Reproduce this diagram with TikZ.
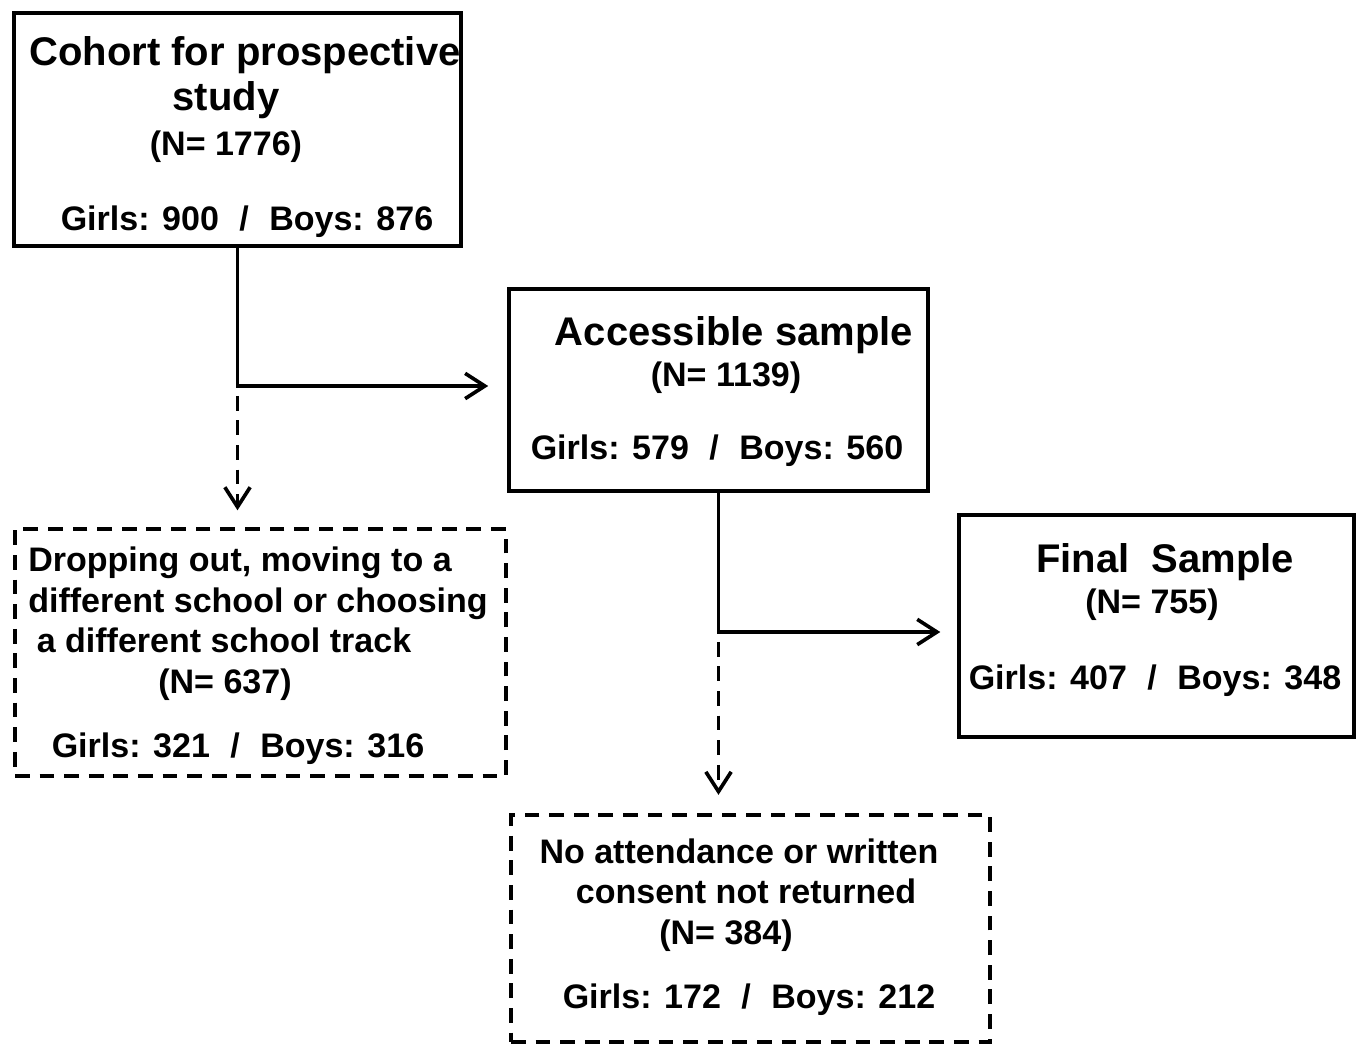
\documentclass[tikz,border=0pt]{standalone}
\usepackage{fontspec}
\setmainfont{Liberation Sans}
\usetikzlibrary{arrows.meta,fit}

\newcommand{\girlsboys}[2]{Girls: #1\hspace{0.6em}/\hspace{0.6em}Boys: #2}

\begin{document}
\begin{tikzpicture}[x=0.025cm, y=-0.025cm,
  solidbox/.style={draw, line width=2.6pt, inner sep=0pt},
  dashbox/.style={solidbox, dash pattern=on 10.5pt off 7pt},
  head/.style={anchor=base, inner sep=0pt, font=\bfseries\fontsize{28.45}{34}\selectfont},
  txt/.style={anchor=base, inner sep=0pt, font=\bfseries\fontsize{24.2}{29}\selectfont},
  flow/.style={line width=2.6pt, -{Straight Barb[length=14pt,width=18pt]}},
  dashflow/.style={flow, dash pattern=on 10.5pt off 7pt, dash phase=10.5pt}]
\useasboundingbox (0,0) rectangle (1356,1044);

% boxes
\node[solidbox, fit={(14,13) (461,246)}] (cohort) {};
\node[solidbox, fit={(509,289) (928,491)}] (access) {};
\node[solidbox, fit={(959,515) (1354,737)}] (final) {};
\node[dashbox, fit={(15,529) (506,776)}] (drop) {};
\node[dashbox, fit={(511,815) (990,1042)}] (noattend) {};

% texts
\node[head] (cohort-1) at (245,66) {Cohort for prospective};
\node[head] (cohort-2) at (226,111) {study};
\node[txt] (cohort-3) at (226,156) {(N= 1776)};
\node[txt] (cohort-4) at (247,231) {\girlsboys{900}{876}};

\node[head] (access-1) at (734,345) {Accessible sample};
\node[txt] (access-2) at (726,386) {(N= 1139)};
\node[txt] (access-3) at (717,459) {\girlsboys{579}{560}};

\node[head] (final-1) at (1165,572) {Final\hspace{0.28em} Sample};
\node[txt] (final-2) at (1152,613) {(N= 755)};
\node[txt] (final-3) at (1155,689) {\girlsboys{407}{348}};

\foreach \x/\y/\line [count=\i] in {240/571/{Dropping out, moving to a},
                                    258/612/{different school or choosing},
                                    224/652/{a different school track},
                                    225/693/{(N= 637)},
                                    238/757/{\girlsboys{321}{316}}}
  \node[txt] (drop-\i) at (\x,\y) {\line};

\foreach \x/\y/\line [count=\i] in {739/863/{No attendance or written},
                                    746/903/{consent not returned},
                                    726/944/{(N= 384)},
                                    749/1008/{\girlsboys{172}{212}}}
  \node[txt] (noattend-\i) at (\x,\y) {\line};

% connectors
\coordinate (split1) at (cohort.south |- 0,386);
\coordinate (split2) at (access.south |- 0,632);
\draw[flow, shorten >=13.5pt] (cohort.south) |- (access.west |- split1);
\draw[dashflow, shorten >=12pt] (split1) -- (split1 |- drop.north);
\draw[flow, shorten >=12pt] (access.south) |- (final.west |- split2);
\draw[dashflow, shorten >=13pt] (split2) -- (split2 |- noattend.north);
\end{tikzpicture}
\end{document}
